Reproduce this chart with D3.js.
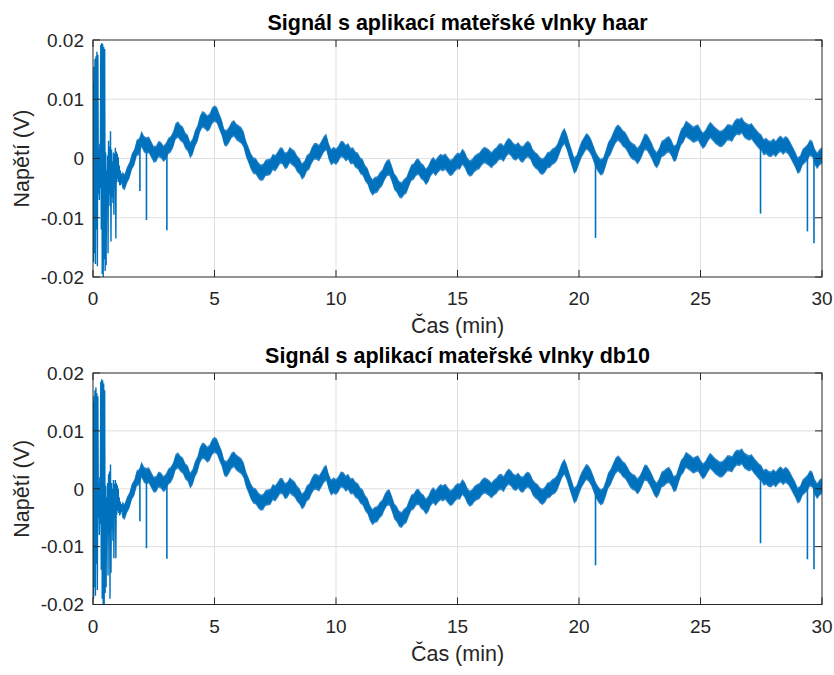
<!DOCTYPE html>
<html>
<head>
<meta charset="utf-8">
<script src="https://cdn.jsdelivr.net/npm/d3@7"></script>
<style>
  body { margin: 0; background: #fff; }
  svg text { font-family: "Liberation Sans", Arial, Helvetica, sans-serif; }
</style>
</head>
<body>
<svg id="fig" width="834" height="675"></svg>
<script>
// ---- axis ticks ----
const xTicks = [0, 5, 10, 15, 20, 25, 30];
const xTickLabels = ["0", "5", "10", "15", "20", "25", "30"];
const yTicks = [-0.02, -0.01, 0, 0.01, 0.02];
const yTickLabels = ["-0.02", "-0.01", "0", "0.01", "0.02"];

// ---- start-up transient, samples every 0.02 min from t = 0 (mV) ----
const onsetStep = 0.02;
const haarOnset = [
  13.0, -17.5, 15.5, -16.0, 16.8, -17.8, 17.2, -12.0, 18.0, -18.2,
  17.5, -6.0, 1.5, -7.0, 2.5, -5.0, 19.2, -12.0, 19.5, -19.5,
  19.3, -20.0, 18.8, -17.0, 18.5, -19.0, 1.0, -18.0, -2.0, -7.0,
  0.5, -16.0, 3.0, -6.0, 2.0, -8.0, 4.6, -14.0, 1.5, -6.5,
  -0.5, -7.5, 1.0, -9.5, 0.8, -4.0, 1.8, -13.5, 1.2, -4.0,
  0.8, -3.5, 0.2, -4.0, -1.2, -4.5, -2.0, -4.5, -2.5, -4.2,
  -3.6
];
const db10Onset = [
  15.0, -19.0, 16.0, -17.0, 17.0, -18.5, 17.5, -13.0, 16.5, -17.5,
  16.0, -5.0, 1.0, -8.0, 2.0, -6.0, 18.5, -14.0, 18.9, -19.0,
  18.7, -20.5, 18.2, -21.5, 17.0, -18.0, 0.5, -17.0, -1.5, -6.0,
  1.0, -15.0, 2.5, -8.0, 3.0, -19.0, 4.2, -14.5, 1.0, -7.0,
  0.0, -9.0, 1.5, -12.0, 0.8, -4.0, 1.5, -12.0, 1.0, -4.5,
  0.6, -3.8, 0.0, -4.2, -1.5, -4.6, -2.2, -4.4, -2.6, -4.0,
  -3.6
];

// ---- drift after the transient, every 0.1 min from t = 1.2 (mV) ----
const trendStart = 1.2;
const trendStep = 0.1;
const trend = [
  -3.6, -4.0, -2.8, -2.0, -0.5, 0.2, 1.8, 2.0, 3.3, 2.4,
   2.2, 2.3, 1.5, 0.7, 0.8, 1.6, 1.4, 0.8, 1.2, 2.1,
   2.4, 3.2, 4.6, 4.9, 4.3, 4.0, 3.0, 2.6, 1.4, 2.0,
   3.4, 4.2, 5.8, 6.6, 6.4, 5.9, 6.2, 7.2, 7.6, 7.3,
   6.2, 5.2, 3.6, 3.4, 4.0, 4.8, 5.1, 4.5, 4.2, 3.9,
   3.2, 1.6, 0.6, -0.5, -1.2, -1.3, -2.0, -2.4, -2.3, -1.6,
  -1.5, -1.4, -0.6, -0.8, -0.2, 0.5, 0.4, -0.4, -0.2, 0.6,
   0.2, -0.1, -0.9, -1.3, -2.2, -1.8, -0.8, -0.5, 0.5, 1.2,
   1.2, 0.9, 1.6, 2.4, 2.8, 1.2, 0.2, 0.6, 0.3, 0.8,
   1.6, 1.5, 0.9, 1.2, 0.4, 0.5, -0.2, -0.4, -1.2, -1.5,
  -2.5, -3.0, -4.2, -4.9, -4.5, -4.4, -3.7, -3.3, -2.3, -1.6,
  -1.5, -2.6, -3.9, -4.4, -5.2, -5.4, -4.8, -4.5, -3.4, -2.4,
  -2.2, -1.5, -1.4, -2.1, -2.4, -3.1, -2.6, -1.6, -1.1, -1.6,
  -1.0, -0.6, -0.8, -0.5, -1.1, -1.6, -1.4, -0.8, -0.4, -0.5,
   0.3, -0.2, -1.2, -1.7, -1.5, -0.9, -0.6, -0.4, 0.2, 0.6,
   0.4, 0.1, -0.3, 0.2, 0.5, 1.1, 1.2, 0.8, 1.6, 2.1,
   1.8, 1.2, 1.0, 1.4, 0.8, 0.7, 1.3, 1.6, 1.2, 0.2,
  -0.3, -0.6, -1.2, -1.4, -1.0, -0.3, -0.2, 0.3, 0.5, 1.0,
   2.1, 3.2, 3.8, 2.8, 1.4, 0.1, -1.2, -0.8, 0.4, 1.5,
   2.2, 2.9, 2.6, 1.9, 0.8, -0.3, -1.0, -1.5, -1.2, 0.0,
   1.4, 2.0, 3.0, 3.9, 4.4, 4.0, 3.4, 3.1, 2.4, 1.6,
   1.2, 1.0, 0.4, 0.9, 1.8, 2.8, 2.7, 2.0, 1.2, 0.2,
  -0.3, 0.4, 1.6, 1.8, 2.2, 2.4, 1.8, 0.8, 1.0, 2.4,
   3.6, 4.1, 5.0, 4.7, 4.4, 4.0, 4.2, 4.4, 3.6, 3.0,
   3.4, 4.2, 4.8, 4.4, 3.9, 3.6, 3.3, 3.4, 3.8, 4.4,
   4.4, 4.2, 5.0, 5.4, 5.3, 5.6, 4.9, 4.6, 4.4, 4.6,
   4.0, 3.5, 3.0, 2.7, 1.9, 2.1, 1.7, 1.6, 2.0, 1.6,
   2.2, 2.5, 2.0, 2.4, 2.1, 1.4, 0.6, -0.2, -1.2, -0.9,
   0.2, 0.6, 1.0, 1.8, 1.6, 0.3, -0.4, 0.2, 0.5
];

// ---- isolated negative spikes: time (min) and depth (mV) ----
const spikeTimes = [1.93, 2.2, 3.04, 20.68, 27.47, 29.4, 29.67];
const haarSpikes = [-5.5, -10.4, -12.1, -13.4, -9.3, -12.3, -14.3];
const db10Spikes = [-5.6, -10.3, -12.1, -13.2, -9.4, -12.2, -13.9];

// ---- figure ----
const svg = d3.select("#fig");
const lineColor = "#0072BD";
const haloColor = "#2f86c8";
const axisColor = "#262626";
const gridColor = "#dfdfdf";
const noiseHalfWidth = 1.1;  // mV, dense noise core
const haloHalfWidth = 1.4;   // mV, sparse noise fringe
const tickLen = 7;

const panels = [
  { title: "Signál s aplikací mateřské vlnky haar", onset: haarOnset, spikes: haarSpikes, top: 40, bottom: 277 },
  { title: "Signál s aplikací mateřské vlnky db10", onset: db10Onset, spikes: db10Spikes, top: 373, bottom: 604.5 }
];
const left = 93, right = 822;

const trendPts = trend.map((v, i) => ({ t: trendStart + i * trendStep, v }));

panels.forEach((p, k) => {
  const x = d3.scaleLinear().domain([0, 30]).range([left, right]);
  const y = d3.scaleLinear().domain([-0.02, 0.02]).range([p.bottom, p.top]);
  const g = svg.append("g");

  // grid
  g.selectAll(".gx").data(xTicks.slice(1, -1)).join("line")
    .attr("x1", d => x(d)).attr("x2", d => x(d))
    .attr("y1", p.top).attr("y2", p.bottom)
    .attr("stroke", gridColor).attr("stroke-width", 1);
  g.selectAll(".gy").data(yTicks.slice(1, -1)).join("line")
    .attr("x1", left).attr("x2", right)
    .attr("y1", d => y(d)).attr("y2", d => y(d))
    .attr("stroke", gridColor).attr("stroke-width", 1);

  // clip to the axes box
  const clipId = "clip" + k;
  svg.append("clipPath").attr("id", clipId).append("rect")
    .attr("x", left).attr("y", p.top).attr("width", right - left).attr("height", p.bottom - p.top);
  const data = g.append("g").attr("clip-path", `url(#${clipId})`);

  // noise band around the drift: fringe, then dense core
  const bandOf = hw => d3.area()
    .x(d => x(d.t))
    .y0(d => y((d.v - hw) / 1000))
    .y1(d => y((d.v + hw) / 1000));
  data.append("path").datum(trendPts).attr("d", bandOf(haloHalfWidth)).attr("fill", haloColor);
  data.append("path").datum(trendPts).attr("d", bandOf(noiseHalfWidth)).attr("fill", lineColor);

  // start-up transient
  const onsetPts = p.onset.map((v, i) => ({ t: i * onsetStep, v }));
  data.append("path").datum(onsetPts)
    .attr("d", d3.line().x(d => x(d.t)).y(d => y(d.v / 1000)))
    .attr("fill", "none").attr("stroke", lineColor).attr("stroke-width", 1.4);

  // spikes drop from the drift level
  const bis = d3.bisector(d => d.t).center;
  spikeTimes.forEach((t, i) => {
    const base = trendPts[bis(trendPts, t)].v;
    data.append("line")
      .attr("x1", x(t)).attr("x2", x(t))
      .attr("y1", y(base / 1000)).attr("y2", y(p.spikes[i] / 1000))
      .attr("stroke", lineColor).attr("stroke-width", 1.6);
  });

  // box
  g.append("rect").attr("x", left).attr("y", p.top)
    .attr("width", right - left).attr("height", p.bottom - p.top)
    .attr("fill", "none").attr("stroke", axisColor).attr("stroke-width", 1);

  // inward ticks on all sides
  xTicks.forEach(d => {
    g.append("line").attr("x1", x(d)).attr("x2", x(d)).attr("y1", p.bottom).attr("y2", p.bottom - tickLen)
      .attr("stroke", axisColor);
    g.append("line").attr("x1", x(d)).attr("x2", x(d)).attr("y1", p.top).attr("y2", p.top + tickLen)
      .attr("stroke", axisColor);
  });
  yTicks.forEach(d => {
    g.append("line").attr("x1", left).attr("x2", left + tickLen).attr("y1", y(d)).attr("y2", y(d))
      .attr("stroke", axisColor);
    g.append("line").attr("x1", right).attr("x2", right - tickLen).attr("y1", y(d)).attr("y2", y(d))
      .attr("stroke", axisColor);
  });

  // tick labels
  g.selectAll(".xl").data(xTicks).join("text")
    .attr("x", d => x(d)).attr("y", p.bottom + 28)
    .attr("text-anchor", "middle").attr("font-size", 19).attr("fill", axisColor)
    .text((d, i) => xTickLabels[i]);
  g.selectAll(".yl").data(yTicks).join("text")
    .attr("x", left - 9).attr("y", d => y(d)).attr("dy", "0.36em")
    .attr("text-anchor", "end").attr("font-size", 19).attr("fill", axisColor)
    .text((d, i) => yTickLabels[i]);

  // axis labels and title
  g.append("text").attr("x", (left + right) / 2).attr("y", p.bottom + 56)
    .attr("text-anchor", "middle").attr("font-size", 21.5).attr("fill", axisColor)
    .text("Čas (min)");
  g.append("text")
    .attr("transform", `translate(29,${(p.top + p.bottom) / 2}) rotate(-90)`)
    .attr("text-anchor", "middle").attr("font-size", 21.5).attr("fill", axisColor)
    .text("Napětí (V)");
  g.append("text").attr("x", (left + right) / 2).attr("y", p.top - 10)
    .attr("text-anchor", "middle").attr("font-size", 21.5).attr("font-weight", "bold")
    .attr("fill", "#000").text(p.title);
});
</script>
</body>
</html>
